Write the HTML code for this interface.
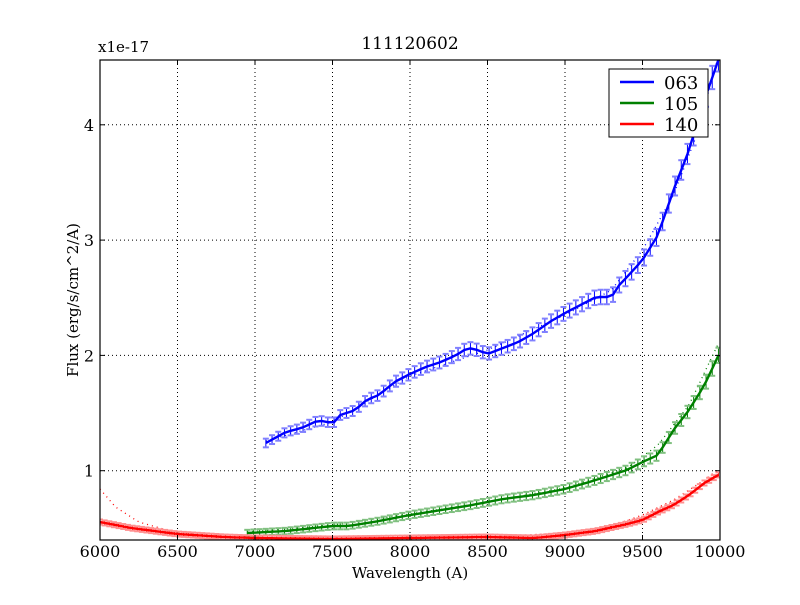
<!DOCTYPE html>
<html><head><style>
body{margin:0;background:#fff;}
svg text{font-family:"DejaVu Serif","Liberation Serif",serif;fill:#000;}
</style></head><body>
<svg id="s" width="800" height="600" xmlns="http://www.w3.org/2000/svg">
<defs><clipPath id="c"><rect x="100" y="60" width="620" height="480"/></clipPath></defs>
<rect width="800" height="600" fill="#fff"/>
<g id="grid" stroke="#000" stroke-width="1" stroke-dasharray="1,3"></g>
<g id="data" clip-path="url(#c)"></g>
<rect x="100" y="60" width="620" height="480" fill="none" stroke="#000" stroke-width="1.2"/>
<g id="ticks"></g>
<text x="410" y="49" font-size="17" text-anchor="middle">111120602</text>
<text x="98" y="52" font-size="15">x1e-17</text>
<text x="410" y="578" font-size="15" text-anchor="middle">Wavelength (A)</text>
<text transform="translate(78,300) rotate(-90)" font-size="15" text-anchor="middle">Flux (erg/s/cm^2/A)</text>
<rect x="609" y="69" width="99" height="68" fill="#fff" stroke="#000"/>
<line x1="620" y1="82" x2="654" y2="82" stroke="#00f" stroke-width="2.5"/>
<line x1="620" y1="103" x2="654" y2="103" stroke="#008000" stroke-width="2.5"/>
<line x1="620" y1="124" x2="654" y2="124" stroke="#f00" stroke-width="2.5"/>
<text x="664" y="89" font-size="18">063</text>
<text x="664" y="110" font-size="18">105</text>
<text x="664" y="131" font-size="18">140</text>
</svg>
<script>
const NS="http://www.w3.org/2000/svg";
function X(w){return 100+0.155*(w-6000);}
function el(p,t,a){const e=document.createElementNS(NS,t);for(const k in a)e.setAttribute(k,a[k]);p.appendChild(e);return e;}
const grid=document.getElementById('grid'),ticks=document.getElementById('ticks'),data=document.getElementById('data');
for(let w=6000;w<=10000;w+=500){const x=X(w);
 if(w>6000&&w<10000)el(grid,'line',{x1:x,y1:60,x2:x,y2:540});
 el(ticks,'line',{x1:x,y1:540,x2:x,y2:535,stroke:'#000'});el(ticks,'line',{x1:x,y1:60,x2:x,y2:65,stroke:'#000'});
 const t=el(ticks,'text',{x:x,y:557,'font-size':16,'text-anchor':'middle'});t.textContent=w;}
for(let v=1;v<=4;v++){const y=586-115.3*v;
 el(grid,'line',{x1:100,y1:y,x2:720,y2:y});
 el(ticks,'line',{x1:100,y1:y,x2:105,y2:y,stroke:'#000'});el(ticks,'line',{x1:720,y1:y,x2:715,y2:y,stroke:'#000'});
 const t=el(ticks,'text',{x:94,y:y+6,'font-size':16,'text-anchor':'end'});t.textContent=v;}
function interp(pts,w){for(let i=0;i<pts.length-1;i++){if(w>=pts[i][0]&&w<=pts[i+1][0]){const f=(w-pts[i][0])/(pts[i+1][0]-pts[i][0]);return pts[i][1]+f*(pts[i+1][1]-pts[i][1]);}}return pts[pts.length-1][1];}
function series(pts,model,col,light,step,err){
 const w0=pts[0][0],w1=pts[pts.length-1][0];
 let d='';for(let w=model[0][0];w<=model[model.length-1][0];w+=20){d+=(d?'L':'M')+X(w).toFixed(1)+','+interp(model,w).toFixed(1);}
 el(data,'path',{d:d,fill:'none',stroke:col,'stroke-width':1.3,'stroke-dasharray':'1,4'});
 let p='';
 for(let w=w0;w<=w1+1;w+=step){const x=X(w),y=interp(pts,w);p+=(p?'L':'M')+x.toFixed(1)+','+y.toFixed(1);
  const e=err(y);
  el(data,'line',{x1:x,y1:y-e,x2:x,y2:y+e,stroke:col,'stroke-width':1});
  el(data,'line',{x1:x-3,y1:y-e,x2:x+3,y2:y-e,stroke:light,'stroke-width':2});
  el(data,'line',{x1:x-3,y1:y+e,x2:x+3,y2:y+e,stroke:light,'stroke-width':2});}
 el(data,'path',{d:p,fill:'none',stroke:col,'stroke-width':2.4});
}
const blue=[[7070,443],[7200,432],[7300,428],[7400,421],[7450,421],[7500,424],[7550,415],[7650,410],[7700,402],[7750,398],[7800,395],[7900,382],[8000,374],[8100,367],[8200,362],[8300,355],[8350,350],[8400,348],[8500,354],[8600,348],[8700,342],[8800,333],[8900,322],[9000,313],[9100,305],[9200,297],[9300,297],[9350,285],[9400,277],[9500,260],[9600,235],[9700,190],[9800,150],[9900,100],[10000,55]];
const blueM=[[7070,441],[7500,422],[8000,376],[8500,350],[9000,315],[9300,290],[9500,250],[9700,195],[9850,135],[10000,50]];
const green=[[6950,533],[7200,531],[7500,526],[7600,526],[7800,521],[8000,515],[8200,510],[8400,505],[8600,499],[8800,495],[9000,489],[9200,480],[9400,470],[9500,462],[9600,455],[9700,430],[9800,410],[9900,385],[10000,352]];
const greenM=[[6950,532],[7500,525],[8000,514],[8500,502],[9000,488],[9400,468],[9600,445],[9800,405],[10000,340]];
const red=[[6000,522],[6200,528],[6500,534],[6800,537],[7000,538],[7500,539],[8000,538],[8500,537],[8800,538],[9000,535],[9200,531],[9400,524],[9500,520],[9600,512],[9700,505],[9800,495],[9900,483],[10000,474]];
const redM=[[6000,489],[6100,507],[6250,522],[6500,533],[7000,539],[8500,537],[9000,533],[9300,526],[9500,515],[9700,500],[9900,480],[10000,468]];
series(blue,blueM,'#0000ff','#8080ff',40,y=>4+(460-y)*0.02);
series(green,greenM,'#008000','#80c080',40,y=>3+(540-y)*0.025);
series(red,redM,'#ff0000','#ff9090',30,y=>2.5);
</script>
</body></html>
